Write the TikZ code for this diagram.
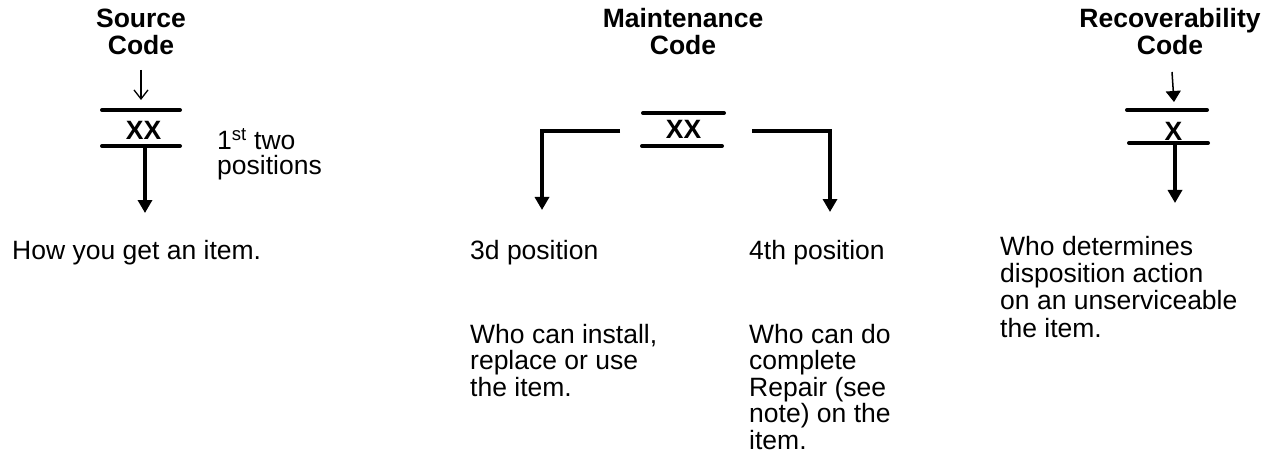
\documentclass[tikz,border=0pt]{standalone}
\usepackage{fontspec}
\setmainfont{Liberation Sans}
\usetikzlibrary{arrows.meta}
\begin{document}
\begin{tikzpicture}[x=1pt,y=-1pt,
  head/.style={font=\fontsize{26.5}{27}\selectfont\bfseries,align=center,anchor=base,inner sep=0pt},
  code/.style={font=\fontsize{26.5}{27}\selectfont\bfseries,inner sep=0pt},
  desc/.style={font=\fontsize{26.5}{27}\selectfont,align=left,anchor=base west,inner sep=0pt},
  bar/.style={line width=4pt,line cap=round},
  bigarrow/.style={line width=3.5pt,-{Triangle[width=14pt,length=13pt]}},
  thinarrow/.style={line width=1.3pt,-{Straight Barb[width=14pt,length=9pt,line width=1.3pt]}},
  thinfill/.style={line width=1.5pt,-{Triangle[width=15pt,length=11pt]}}]
\useasboundingbox (0,0) rectangle (1276,457);
% Source
\node[head] (srchead) at (141,55) {Source\\Code};
\coordinate (srcin) at (141,70);
\coordinate (srctop) at (141,100);
\draw[bar] (102,110) -- (180,110);
\draw[bar] (102,146) -- (180,146);
\node[code] (srcxx) at (143.5,130.5) {XX};
\coordinate (srcout) at (145,146);
\coordinate (srcend) at (145,213);
\draw[thinarrow] (srcin) -- (srctop);
\draw[bigarrow] (srcout) -- (srcend);
\node[desc,font=\fontsize{26.5}{25}\selectfont] (srcpos) at (217,175) {1\textsuperscript{st} two\\positions};
\node[desc] (srcdesc) at (12,259) {How you get an item.};
% Maintenance
\node[head] (mhead) at (683,55) {Maintenance\\Code};
\draw[bar] (643,113) -- (724,113);
\draw[bar] (642,146) -- (722,146);
\node[code] (mxx) at (683.5,129.5) {XX};
\coordinate (mleft) at (620,131);
\coordinate (mleftend) at (542,210);
\coordinate (mright) at (752,131);
\coordinate (mrightend) at (830,212);
\draw[bigarrow] (mleft) -| (mleftend);
\draw[bigarrow] (mright) -| (mrightend);
\node[desc] (m3) at (470,259) {3d position};
\node[desc,font=\fontsize{26.5}{26.5}\selectfont] (m3d) at (470,396) {Who can install,\\replace or use\\the item.};
\node[desc] (m4) at (749,259) {4th position};
\node[desc,font=\fontsize{26.5}{26.5}\selectfont] (m4d) at (749,449) {Who can do\\complete\\Repair (see\\note) on the\\item.};
% Recoverability
\node[head] (rhead) at (1170,55) {Recoverability\\Code};
\coordinate (rin) at (1172,72);
\coordinate (rtop) at (1174,102);
\draw[thinfill] (rin) -- (rtop);
\draw[bar] (1127,110) -- (1207,110);
\draw[bar] (1129,143) -- (1208,143);
\node[code] (rx) at (1173.5,131.5) {X};
\coordinate (rout) at (1175,143);
\coordinate (rend) at (1175,203);
\draw[bigarrow] (rout) -- (rend);
\node[desc,font=\fontsize{26.5}{27.3}\selectfont] (rdesc) at (1000,337) {Who determines\\disposition action\\on an unserviceable\\the item.};
\end{tikzpicture}
\end{document}
